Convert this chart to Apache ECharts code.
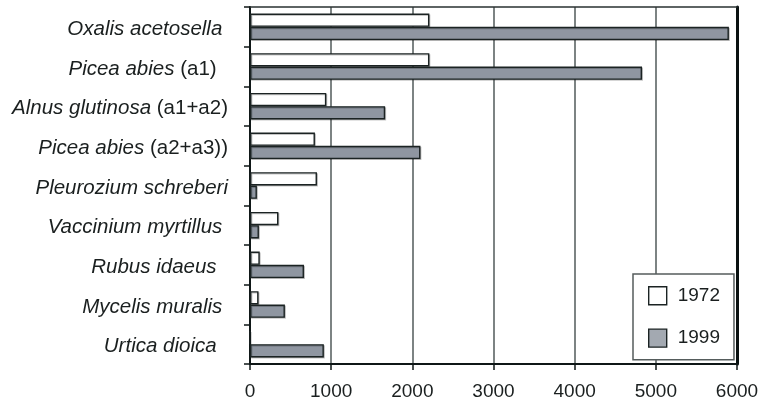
<!DOCTYPE html>
<html>
<head>
<meta charset="utf-8">
<style>
  html, body { margin: 0; padding: 0; background: #ffffff; }
  #chart { width: 764px; height: 403px; }
</style>
<script src="https://cdn.jsdelivr.net/npm/echarts@6/dist/echarts.min.js"></script>
</head>
<body>
<div id="chart"></div>
<script>
// Species (top to bottom) and cover values for the two survey years
const species = [
  'Oxalis acetosella ',
  'Picea abies (a1)  ',
  'Alnus glutinosa (a1+a2)',
  'Picea abies (a2+a3))',
  'Pleurozium schreberi',
  'Vaccinium myrtillus ',
  'Rubus idaeus  ',
  'Mycelis muralis ',
  'Urtica dioica  '
];
const years = ['1972', '1999'];
const values1972 = [2210, 2210, 940, 800, 825, 350, 120, 105, 0];
const values1999 = [5900, 4830, 1665, 2100, 85, 110, 665, 430, 910];
const xTicks = [0, 1000, 2000, 3000, 4000, 5000, 6000];

const FONT = '"Liberation Sans", Arial, Helvetica, sans-serif';
const EDGE = '#1b2323';
const GRID = '#5c6464';
const FILL_1999 = '#8f96a1';
const INK = '#1a1f1f';

// Latin name in italics, qualifier in brackets upright
function speciesLabel(name) {
  const k = name.indexOf(' (');
  if (k < 0) return '{i|' + name + '}';
  return '{i|' + name.slice(0, k) + '}{n| ' + name.slice(k + 1) + '}';
}

const barStyle = (fill) => ({
  color: fill,
  borderColor: EDGE,
  borderWidth: 1.4,
  shadowColor: 'rgba(0,0,0,0.22)',
  shadowOffsetX: 1,
  shadowOffsetY: 1,
  shadowBlur: 0
});

const chart = echarts.init(document.getElementById('chart'), null, { renderer: 'canvas' });
chart.setOption({
  animation: false,
  backgroundColor: '#ffffff',
  textStyle: { fontFamily: FONT },
  grid: { left: 250, right: 27, top: 7, bottom: 39, containLabel: false },
  legend: {
    orient: 'vertical',
    left: 633,
    top: 274,
    width: 101,
    padding: [12, 14, 12, 15],
    itemGap: 23,
    itemWidth: 18,
    itemHeight: 18,
    backgroundColor: '#ffffff',
    borderColor: '#555c5c',
    borderWidth: 1.5,
    icon: 'rect',
    textStyle: { fontFamily: FONT, fontSize: 19, color: INK, padding: [0, 0, 0, 6] },
    data: [
      { name: years[0], itemStyle: { color: '#ffffff', borderColor: EDGE, borderWidth: 1.4 } },
      { name: years[1], itemStyle: { color: '#a3a9b1', borderColor: EDGE, borderWidth: 1.4 } }
    ]
  },
  xAxis: [
    {
      type: 'value',
      min: xTicks[0],
      max: xTicks[xTicks.length - 1],
      interval: xTicks[1] - xTicks[0],
      axisLine: { show: true, onZero: false, lineStyle: { color: '#0f1717', width: 2 } },
      axisTick: { show: true, length: 6, lineStyle: { color: '#0f1717', width: 1.5 } },
      axisLabel: { fontFamily: FONT, fontSize: 19, color: INK, margin: 18, formatter: (v) => String(v) },
      splitLine: { show: true, lineStyle: { color: GRID, width: 1.6 } }
    },
    {
      type: 'value',
      position: 'top',
      min: xTicks[0],
      max: xTicks[xTicks.length - 1],
      interval: xTicks[1] - xTicks[0],
      axisLine: { show: true, onZero: false, lineStyle: { color: '#2a3232', width: 1.5 } },
      axisTick: { show: false },
      axisLabel: { show: false },
      splitLine: { show: false }
    }
  ],
  yAxis: [
    {
      type: 'category',
      data: species,
      inverse: true,
      axisLine: { show: true, onZero: false, lineStyle: { color: '#0f1717', width: 2 } },
      axisTick: { show: true, length: 6, lineStyle: { color: '#0f1717', width: 1.5 } },
      axisLabel: {
        margin: 22,
        formatter: speciesLabel,
        rich: {
          i: { fontFamily: FONT, fontSize: 20.5, fontStyle: 'italic', color: INK, padding: [5, 0, 0, 0] },
          n: { fontFamily: FONT, fontSize: 20.5, fontStyle: 'normal', color: INK, padding: [5, 0, 0, 0] }
        }
      },
      splitLine: { show: false }
    },
    {
      type: 'category',
      data: species,
      inverse: true,
      position: 'right',
      axisLine: { show: true, onZero: false, lineStyle: { color: '#0a1212', width: 3 } },
      axisTick: { show: false },
      axisLabel: { show: false },
      splitLine: { show: false }
    }
  ],
  series: [
    {
      name: years[0],
      type: 'bar',
      data: values1972,
      barGap: '0%',
      barCategoryGap: '33%',
      itemStyle: barStyle('#ffffff')
    },
    {
      name: years[1],
      type: 'bar',
      data: values1999,
      barGap: '0%',
      barCategoryGap: '33%',
      itemStyle: barStyle(FILL_1999)
    }
  ]
});
</script>
</body>
</html>
